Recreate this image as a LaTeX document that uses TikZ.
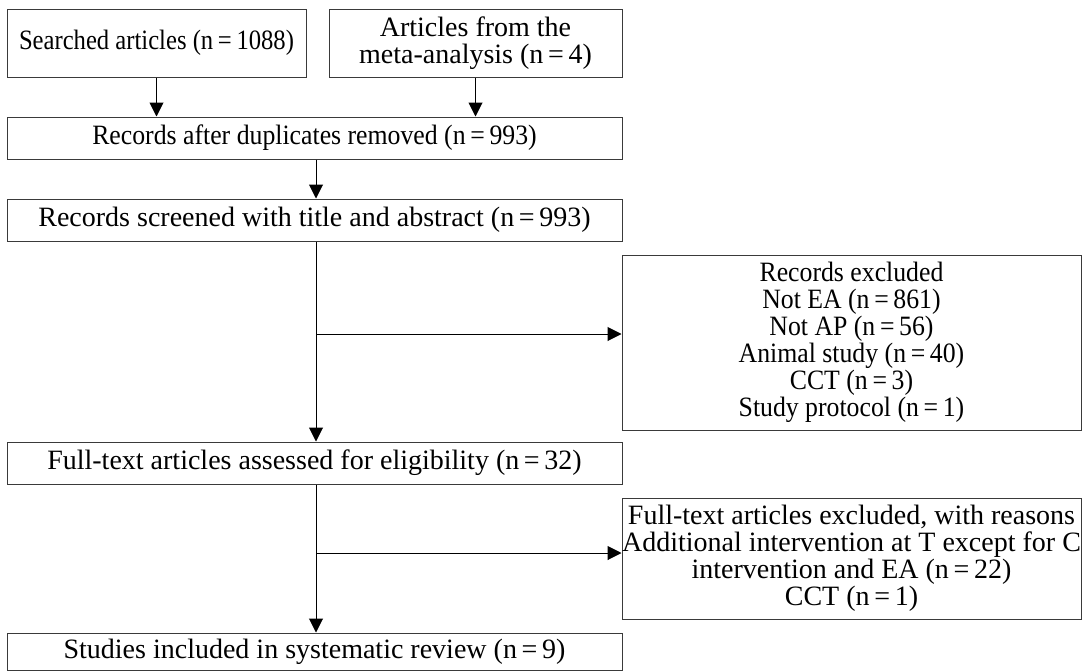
\documentclass[tikz,border=0pt]{standalone}
\usepackage{fontspec}
\setmainfont{Liberation Serif}
\newfontfamily\slimfont{Liberation Serif}[FakeStretch=0.88]
\newfontfamily\semifont{Liberation Serif}[FakeStretch=0.92]
\usetikzlibrary{arrows.meta}
\definecolor{Frame}{HTML}{3A3A3A}

\begin{document}
\begin{tikzpicture}[x=0.75pt,y=0.75pt,
  box/.style={draw=Frame,line width=0.75pt,inner sep=0pt,align=center,font=\fontsize{21}{20.3}\selectfont},
  arr/.style={-{Triangle[length=10.5pt,width=10.5pt]},black,line width=0.75pt}]
\useasboundingbox (0,0) rectangle (1082,-671);
\node[box,minimum width=299*0.75pt,minimum height=68*0.75pt,font=\slimfont\fontsize{21}{20.3}\selectfont] (srch) at (156.5,-43) {Searched articles (n\,=\,1088)};
\node[box,minimum width=293*0.75pt,minimum height=68*0.75pt] (meta) at (475.5,-43) {Articles from the\\meta-analysis (n\,=\,4)};
\node[box,minimum width=615*0.75pt,minimum height=42*0.75pt,font=\semifont\fontsize{21}{20.3}\selectfont] (dup) at (314.5,-138) {Records after duplicates removed (n\,=\,993)};
\node[box,minimum width=615*0.75pt,minimum height=42*0.75pt] (scr) at (314.5,-220) {Records screened with title and abstract (n\,=\,993)};
\node[box,minimum width=459*0.75pt,minimum height=175*0.75pt,font=\semifont\fontsize{21}{20.3}\selectfont] (exa) at (851.5,-342.5) {Records excluded\\Not EA (n\,=\,861)\\Not AP (n\,=\,56)\\Animal study (n\,=\,40)\\CCT (n\,=\,3)\\Study protocol (n\,=\,1)};
\node[box,minimum width=615*0.75pt,minimum height=42*0.75pt] (full) at (314.5,-463) {Full-text articles assessed for eligibility (n\,=\,32)};
\node[box,minimum width=459*0.75pt,minimum height=121*0.75pt] (exb) at (851.5,-558.5) {Full-text articles excluded, with reasons\\Additional intervention at T except for C\\intervention and EA (n\,=\,22)\\CCT (n\,=\,1)};
\node[box,minimum width=615*0.75pt,minimum height=37*0.75pt] (incl) at (314.5,-651.5) {Studies included in systematic review (n\,=\,9)};
\coordinate (ba) at (316,-334);
\coordinate (bb) at (316,-553);
\draw[arr] (srch.south) -- (srch.south |- dup.north);
\draw[arr] (meta.south) -- (meta.south |- dup.north);
\draw[arr] (dup.south -| ba) -- (scr.north -| ba);
\draw[arr] (scr.south -| ba) -- (full.north -| ba);
\draw[arr] (ba) -- (ba -| exa.west);
\draw[arr] (full.south -| bb) -- (incl.north -| bb);
\draw[arr] (bb) -- (bb -| exb.west);
\end{tikzpicture}
\end{document}
